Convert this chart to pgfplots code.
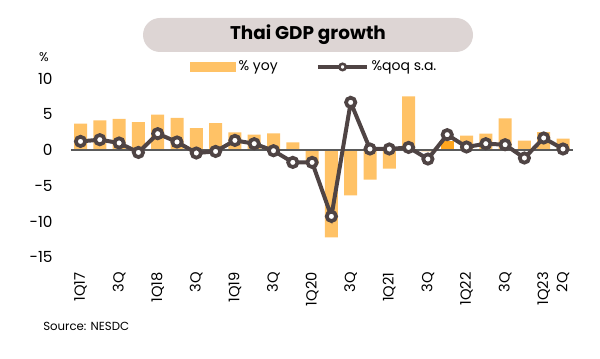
\documentclass[border=0pt]{standalone}
\usepackage{pgfplots}
\pgfplotsset{compat=1.18}
\usepackage{fontspec}
\setmainfont{Poppins}
\definecolor{barc}{HTML}{FFC266}
\definecolor{bardark}{HTML}{FFA61F}
\definecolor{linec}{HTML}{4F4444}
\definecolor{titlebg}{HTML}{DDD5D4}
\definecolor{zeroc}{HTML}{5A5A5A}
\begin{document}
\begin{tikzpicture}
\begin{scope}[x=0.75pt,y=-0.75pt]
\path[use as bounding box] (0,0) rectangle (600,359);
\node[fill=titlebg, rounded corners=12.75pt, minimum width=247.5pt, minimum height=25.5pt, inner sep=0pt, font=\fontsize{13.8}{16}\selectfont\bfseries] at (308,35) {Thai GDP growth};
\node[font=\fontsize{9.5}{11}\selectfont] at (44,57) {\%};
\node[font=\fontsize{8.8}{10}\selectfont, anchor=west, inner sep=0pt] at (43,326) {Source: NESDC};
\end{scope}
\begin{axis}[
  at={(53.14pt,-193.05pt)}, anchor=south west,
  scale only axis, width=376.35pt, height=134.25pt,
  xmin=-0.5, xmax=25.5, ymin=-15, ymax=10,
  axis line style={draw=none}, tick style={draw=none},
  major tick length=0pt,
  ytick={-15,-10,-5,0,5,10},
  xtick={0,2,4,6,8,10,12,14,16,18,20,22,24,25},
  xticklabels={1Q17,3Q,1Q18,3Q,1Q19,3Q,1Q20,3Q,1Q21,3Q,1Q22,3Q,1Q23,2Q},
  /pgf/number format/assume math mode=true,
  yticklabel style={font=\fontsize{11.5}{13}\selectfont, anchor=east, inner sep=0pt, xshift=-13.5pt},
  xticklabel style={font=\fontsize{11}{13}\selectfont, rotate=90, anchor=east, inner sep=0pt},
  xticklabel shift=11pt,
  clip=false,
  legend columns=2,
  legend style={at={(0.486,1.064)}, anchor=center, draw=none, fill=none,
    font=\fontsize{10.5}{12}\selectfont, inner sep=0pt,
    /tikz/every even column/.append style={column sep=27pt}},
]
\addlegendimage{legend image code/.code={\fill[barc] (0pt,-3.4pt) rectangle (33.75pt,3.4pt);}}
\addlegendentry{\% yoy}
\addlegendimage{legend image code/.code={
  \draw[linec, line width=2.4pt] (0pt,0pt) -- (37pt,0pt);
  \draw[linec, line width=1.9pt, fill=white] (18.5pt,0pt) circle (2.4pt);}}
\addlegendentry{\%qoq s.a.}
\addplot[ybar, bar width=9.75pt, fill=barc, draw=none, forget plot] coordinates {
(0,3.67) (1,4.13) (2,4.33) (3,3.91) (4,4.93) (5,4.47) (6,3.07) (7,3.77)
(8,2.46) (9,2.14) (10,2.32) (11,1.06) (12,-2.0) (13,-12.2) (14,-6.34) (15,-4.15)
(16,-2.61) (17,7.49) (18,-0.2) (20,2.0) (21,2.3) (22,4.4) (23,1.3)
(24,2.5) (25,1.58)};
\addplot[ybar, bar width=9.75pt, fill=bardark, draw=none, forget plot] coordinates {(19,1.2)};
\addplot[zeroc, line width=1.1pt, forget plot] coordinates {(-0.5,0) (25.5,0)};
\addplot[linec, line width=3pt, mark=*, mark size=3.5pt,
  mark options={fill=white, draw=linec, line width=2.8pt}, forget plot] coordinates {
(0,1.2) (1,1.44) (2,0.98) (3,-0.34) (4,2.28) (5,1.12) (6,-0.42) (7,-0.2)
(8,1.34) (9,0.88) (10,-0.1) (11,-1.73) (12,-1.73) (13,-9.27) (14,6.65) (15,0.14)
(16,0.14) (17,0.36) (18,-1.26) (19,2.14) (20,0.42) (21,0.88) (22,0.74) (23,-1.12)
(24,1.68) (25,0.14)};
\end{axis}
\end{tikzpicture}
\end{document}
